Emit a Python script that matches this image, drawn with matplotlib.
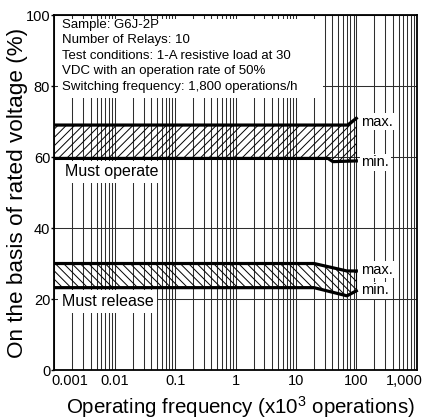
import numpy as np
import matplotlib
matplotlib.use('Agg')
import matplotlib.pyplot as plt
from matplotlib.ticker import LogLocator, NullFormatter, FixedLocator
from matplotlib.transforms import ScaledTranslation
from matplotlib.patches import Rectangle

plt.rcParams['font.family'] = ['Liberation Sans', 'DejaVu Sans']
plt.rcParams['mathtext.fontset'] = 'custom'
plt.rcParams['mathtext.rm'] = 'Liberation Sans'
plt.rcParams['mathtext.default'] = 'regular'
plt.rcParams['hatch.linewidth'] = 0.7

# ---------------- data ----------------
op_max_x = [0.001, 72, 100]
op_max_y = [69.0, 69.0, 70.9]
op_min_x = [0.001, 34, 41, 100]
op_min_y = [59.6, 59.6, 58.7, 58.9]

rel_max_x = [0.001, 20, 70, 100]
rel_max_y = [30.0, 30.0, 27.9, 27.9]
rel_min_x = [0.001, 20, 70, 100]
rel_min_y = [23.2, 23.2, 20.9, 22.3]

xtick_vals = [0.001, 0.01, 0.1, 1, 10, 100, 1000]
xtick_labels = ['0.001', '0.01', '0.1', '1', '10', '100', '1,000']
ytick_vals = [0, 20, 40, 60, 80, 100]

note_lines = [
    'Sample: G6J-2P',
    'Number of Relays: 10',
    'Test conditions: 1-A resistive load at 30',
    'VDC with an operation rate of 50%',
    'Switching frequency: 1,800 operations/h',
]

# ---------------- figure ----------------
fig = plt.figure(figsize=(4.23, 4.19), dpi=100)
ax = fig.add_axes([0.1284, 0.1169, 0.8567, 0.8473])
ax.set_xscale('log')
ax.set_xlim(0.001, 1000)
ax.set_ylim(0, 100)

ax.set_axisbelow(True)
ax.xaxis.set_major_locator(FixedLocator(xtick_vals))
ax.xaxis.set_minor_locator(LogLocator(base=10, subs=np.arange(2, 10)))
ax.xaxis.set_minor_formatter(NullFormatter())
ax.set_xticks(xtick_vals, xtick_labels)
ax.set_yticks(ytick_vals)
gcol = '#2e2e2e'
ax.grid(which='both', axis='x', color=gcol, lw=0.75)
ax.grid(which='major', axis='y', color=gcol, lw=0.75)

ax.tick_params(axis='x', which='both', length=0, pad=3, labelsize=10.5)
ax.tick_params(axis='y', length=2.5, width=1, direction='out', pad=0.5, labelsize=10.5)
for s in ax.spines.values():
    s.set_linewidth(1.3)

# white box behind note text
ax.add_patch(Rectangle((0.010, 0.766), 0.731, 0.223, transform=ax.transAxes,
                       facecolor='white', edgecolor='none', zorder=1.5))
ax.text(0.021, 0.989, '\n'.join(note_lines), transform=ax.transAxes,
        ha='left', va='top', fontsize=9.5, linespacing=1.38, zorder=4)

# bands
def band(xmax, ymax, xmin, ymin, hatch):
    px = np.concatenate([xmax, xmin[::-1]])
    py = np.concatenate([ymax, ymin[::-1]])
    ax.fill(px, py, facecolor='none', edgecolor='black', lw=0, hatch=hatch, zorder=2)
    ax.plot(xmax, ymax, color='black', lw=2.3, zorder=3, solid_joinstyle='round')
    ax.plot(xmin, ymin, color='black', lw=2.3, zorder=3, solid_joinstyle='round')
    ax.plot([xmax[-1], xmin[-1]], [ymax[-1], ymin[-1]], color='black', lw=0.8, zorder=3)

band(np.array(op_max_x), np.array(op_max_y), np.array(op_min_x), np.array(op_min_y), '////')
band(np.array(rel_max_x), np.array(rel_max_y), np.array(rel_min_x), np.array(rel_min_y), '\\\\\\\\')

wb = dict(facecolor='white', edgecolor='none', pad=2.5)
ax.text(0.0015, 55.8, 'Must operate', fontsize=11.5, ha='left', va='center', bbox=wb, zorder=4)
ax.text(0.00134, 19.3, 'Must release', fontsize=11.5, ha='left', va='center', bbox=wb, zorder=4)
wb2 = dict(facecolor='white', edgecolor='none', pad=1)
for yy, tt in [(69.9, 'max.'), (58.5, 'min.'), (28.2, 'max.'), (22.4, 'min.')]:
    ax.text(122, yy, tt, fontsize=10.5, ha='left', va='center', bbox=wb2, zorder=4)

ax.set_xlabel('Operating frequency (x10$^3$ operations)', fontsize=14.8)
ax.xaxis.set_label_coords(0.515, -0.068)
ax.set_ylabel('On the basis of rated voltage (%)', fontsize=16.2)
ax.yaxis.set_label_coords(-0.072, 0.5)

labs = ax.get_xticklabels()
labs[0].set_transform(labs[0].get_transform() + ScaledTranslation(0.157, 0, fig.dpi_scale_trans))
labs[-1].set_transform(labs[-1].get_transform() + ScaledTranslation(-0.12, 0, fig.dpi_scale_trans))

fig.savefig('out.png', dpi=100)
